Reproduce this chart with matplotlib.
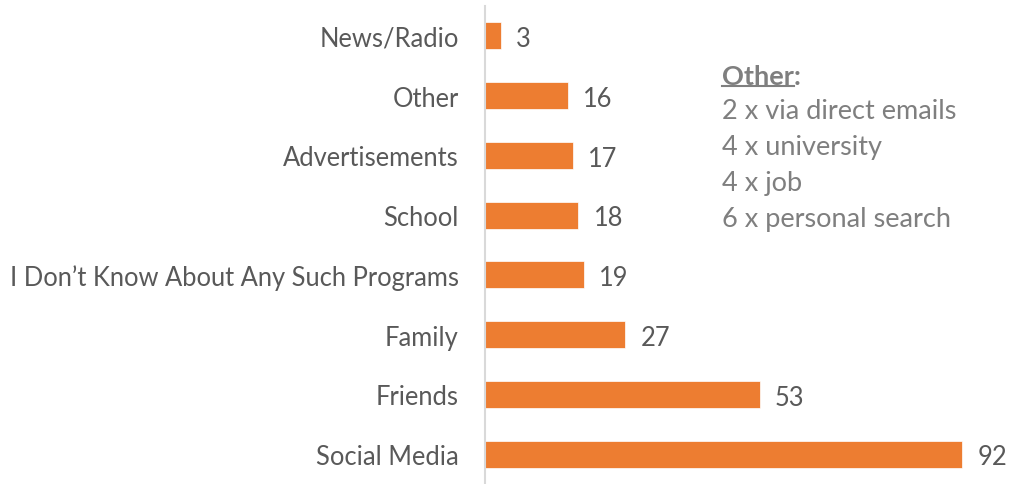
import matplotlib.pyplot as plt

categories = ["Social Media", "Friends", "Family",
              "I Don\u2019t Know About Any Such Programs", "School",
              "Advertisements", "Other", "News/Radio"]
counts = [92, 53, 27, 19, 18, 17, 16, 3]

other_title = "Other"
other_lines = ["2 x via direct emails", "4 x university", "4 x job",
               "6 x personal search"]

plt.rcParams['font.family'] = ['Lato', 'DejaVu Sans']

bar_color = '#ED7D31'
label_color = '#595959'
note_color = '#7F7F7F'

fig = plt.figure(figsize=(10.1, 4.85), dpi=100)
ax = fig.add_axes([0.4802, 0.0, 0.5134, 0.9856])

y = range(len(categories))
ax.barh(y, counts, height=0.45, color=bar_color, edgecolor='white', linewidth=0.5)
ax.set_xlim(0, 100)
ax.set_ylim(-0.5, len(categories) - 0.5)

ax.set_yticks(list(y))
ax.set_yticklabels(categories, fontsize=18.4, color=label_color)
ax.tick_params(axis='y', length=0, pad=19)
ax.set_xticks([])

for side in ['top', 'right', 'bottom']:
    ax.spines[side].set_visible(False)
ax.spines['left'].set_color('#D9D9D9')
ax.spines['left'].set_linewidth(1.5)

for yi, v in zip(y, counts):
    ax.annotate(str(v), (v, yi), xytext=(11, -2), textcoords='offset points',
                ha='left', va='center', fontsize=18.4, color=label_color)

# note box listing what "Other" means
note_size = 19.5
tx, ty = 0.715, 0.842
title = fig.text(tx, ty, other_title, fontsize=note_size, fontweight='bold',
                 color=note_color, va='center')
fig.canvas.draw()
bb = title.get_window_extent()
inv = fig.transFigure.inverted()
(x0, y0), (x1, y1) = inv.transform([[bb.x0, bb.y0], [bb.x1, bb.y1]])
fig.text(x1, ty, ":", fontsize=note_size, fontweight='bold', color=note_color, va='center')
fig.add_artist(plt.Line2D([x0, x1], [y0 + 0.004, y0 + 0.004], color=note_color,
                          linewidth=1.5, transform=fig.transFigure))

line_gap = 36 / 485
for i, line in enumerate(other_lines):
    fig.text(tx, ty - 0.072 - i * line_gap, line, fontsize=note_size,
             color=note_color, va='center')

fig.savefig('out.png', dpi=100)
